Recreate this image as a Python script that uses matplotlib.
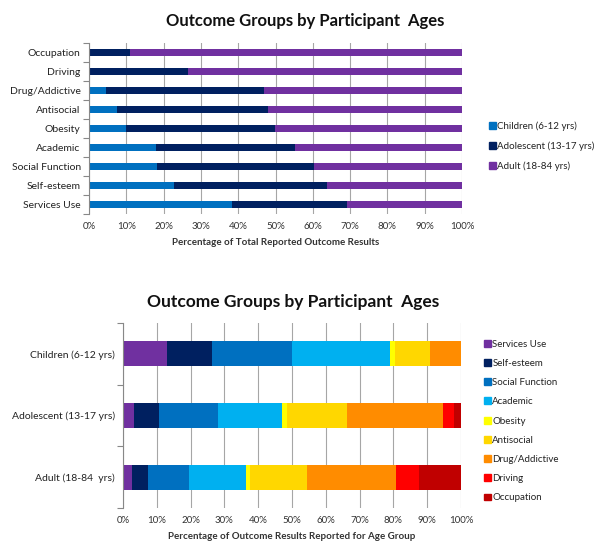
import matplotlib
matplotlib.use("Agg")
import matplotlib.pyplot as plt
from matplotlib.patches import Patch
import numpy as np

plt.rcParams['font.family'] = ['Lato', 'DejaVu Sans']

# ---- Top chart data (percent of total reported outcome results) ----
outcomes = ["Services Use", "Self-esteem", "Social Function", "Academic", "Obesity",
            "Antisocial", "Drug/Addictive", "Driving", "Occupation"]
children = [38.4, 22.8, 18.3, 18.0, 10.0, 7.6, 4.5, 0.0, 0.0]
adolescent = [30.9, 40.9, 41.9, 37.3, 39.9, 40.3, 42.4, 26.5, 11.1]
adult = [30.7, 36.3, 39.8, 44.7, 50.1, 52.1, 53.1, 73.5, 88.9]
age_labels = ["Children (6-12 yrs)", "Adolescent (13-17 yrs)", "Adult (18-84 yrs)"]
age_colors = ["#0070C0", "#002060", "#7030A0"]

# ---- Bottom chart data (percent of outcome results reported for age group) ----
groups = ["Adult (18-84  yrs)", "Adolescent (13-17 yrs)", "Children (6-12 yrs)"]
services_use = [2.6, 3.3, 13.0]
self_esteem = [4.8, 7.4, 13.3]
social_function = [12.0, 17.3, 23.7]
academic = [16.9, 18.9, 29.1]
obesity = [1.3, 1.5, 1.3]
antisocial = [16.9, 17.8, 10.3]
drug_addictive = [26.4, 28.5, 9.3]
driving = [6.7, 3.3, 0.0]
occupation = [12.4, 2.0, 0.0]
series_names = ["Services Use", "Self-esteem", "Social Function", "Academic", "Obesity",
                "Antisocial", "Drug/Addictive", "Driving", "Occupation"]
series_colors = ["#7030A0", "#002060", "#0070C0", "#00B0F0", "#FFFF00",
                 "#FFD700", "#FF8C00", "#FF0000", "#C00000"]

xticks = list(range(0, 101, 10))
xticklabels = [f"{t}%" for t in xticks]

W, H = 600, 552
fig = plt.figure(figsize=(W / 100, H / 100), dpi=100)
fig.patch.set_facecolor("white")


def ax_at(x0, y0, x1, y1):
    return fig.add_axes([x0 / W, 1 - y1 / H, (x1 - x0) / W, (y1 - y0) / H])


def style(ax, n):
    ax.set_xlim(0, 100)
    ax.set_ylim(-0.5, n - 0.5)
    ax.set_xticks(xticks)
    ax.set_xticklabels(xticklabels, fontsize=7, color="#333333")
    ax.tick_params(axis="x", length=0, pad=6)
    ax.set_yticks(np.arange(n))
    ax.set_yticks(np.arange(n + 1) - 0.5, minor=True)
    ax.tick_params(axis="y", which="major", length=0, pad=6, labelsize=7.5, labelcolor="#222222")
    ax.tick_params(axis="y", which="minor", length=4, color="#888888", width=0.8)
    for s in ["top", "right", "bottom"]:
        ax.spines[s].set_visible(False)
    ax.spines["left"].set_color("#888888")
    ax.spines["left"].set_linewidth(0.8)
    ax.grid(axis="x", color="#A6A6A6", linewidth=0.8)
    ax.set_axisbelow(True)


legend_kw = dict(loc="center left", frameon=False, fontsize=7, handlelength=0.7,
                 handleheight=0.7, handletextpad=0.15, labelspacing=1.05,
                 labelcolor="#222222", borderpad=0, borderaxespad=0)

# ---- Top chart ----
ax1 = ax_at(89, 43, 462, 214)
y = np.arange(len(outcomes))
left = np.zeros(len(outcomes))
for vals, c in zip([children, adolescent, adult], age_colors):
    ax1.barh(y, vals, left=left, height=0.37, color=c, linewidth=0)
    left = left + np.array(vals)
ax1.set_yticks(y)
ax1.set_yticklabels(outcomes)
style(ax1, len(outcomes))
ax1.set_xlabel("Percentage of Total Reported Outcome Results", fontsize=7,
               fontweight="bold", color="#333333", labelpad=5)
fig.text(305 / W, 1 - 21 / H, "Outcome Groups by Participant  Ages", ha="center", va="center",
         fontsize=12, fontweight="bold", color="#111111")
fig.legend(handles=[Patch(color=c, label=l) for c, l in zip(age_colors, age_labels)],
           bbox_to_anchor=(489 / W, 1 - 146 / H), **legend_kw)

# ---- Bottom chart ----
ax2 = ax_at(123, 323, 461, 508)
y2 = np.arange(len(groups))
left = np.zeros(len(groups))
all_series = [services_use, self_esteem, social_function, academic, obesity,
              antisocial, drug_addictive, driving, occupation]
for vals, c in zip(all_series, series_colors):
    ax2.barh(y2, vals, left=left, height=0.41, color=c, linewidth=0)
    left = left + np.array(vals)
ax2.set_yticks(y2)
ax2.set_yticklabels(groups)
style(ax2, len(groups))
ax2.set_xlabel("Percentage of Outcome Results Reported for Age Group", fontsize=7,
               fontweight="bold", color="#333333", labelpad=5)
fig.text(293 / W, 1 - 302 / H, "Outcome Groups by Participant  Ages", ha="center", va="center",
         fontsize=12.5, fontweight="bold", color="#111111")
fig.legend(handles=[Patch(color=c, label=l) for c, l in zip(series_colors, series_names)],
           bbox_to_anchor=(484 / W, 1 - 421 / H), **legend_kw)

fig.savefig("out.png", dpi=100, facecolor="white")
